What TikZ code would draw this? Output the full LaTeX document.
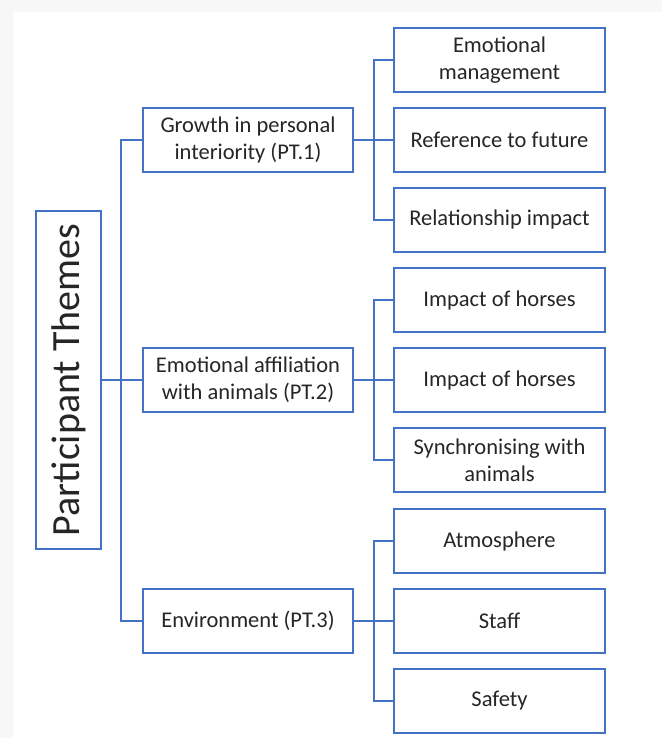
\documentclass[tikz,border=0pt]{standalone}
\usepackage{fontspec}
\setmainfont{Carlito}
\definecolor{bgc}{HTML}{F7F7F7}
\definecolor{lineblue}{HTML}{4472C4}
\definecolor{txt}{HTML}{262626}
\begin{document}
\begin{tikzpicture}[x=1pt,y=-1pt,
  boxbase/.style={draw=lineblue,line width=2pt,fill=white,inner sep=0pt,align=center,text=txt},
  leafbox/.style={boxbase,minimum width=211pt,minimum height=64pt,font=\fontsize{22.5}{27}\selectfont},
  midbox/.style={boxbase,minimum width=210pt,minimum height=64pt,font=\fontsize{22.5}{27}\selectfont},
  rootbox/.style={boxbase,minimum width=338pt,minimum height=65pt,rotate=90,font=\fontsize{40}{48}\selectfont},
  conn/.style={draw=lineblue,line width=2pt}]
\useasboundingbox (0,0) rectangle (662,738);
\fill[bgc] (0,0) rectangle (662,738);
\fill[white] (13,12) rectangle (662,738);

\node[rootbox] (root) at (68.5,380) {Participant Themes};

\node[midbox] (m1) at (248,140) {Growth in personal\\interiority (PT.1)};
\node[midbox] (m2) at (248,380) {Emotional affiliation\\with animals (PT.2)};
\node[midbox] (m3) at (248,621) {Environment (PT.3)};

\node[leafbox] (l1) at (499.5,60) {Emotional\\management};
\node[leafbox] (l2) at (499.5,140) {Reference to future};
\node[leafbox] (l3) at (499.5,220) {Relationship impact};
\node[leafbox] (l4) at (499.5,300) {Impact of horses};
\node[leafbox] (l5) at (499.5,380) {Impact of horses};
\node[leafbox] (l6) at (499.5,460) {Synchronising with\\animals};
\node[leafbox] (l7) at (499.5,541) {Atmosphere};
\node[leafbox] (l8) at (499.5,621) {Staff};
\node[leafbox] (l9) at (499.5,701) {Safety};

\coordinate (tr) at (121,380);
\coordinate (b1) at (373.5,140);
\coordinate (b2) at (373.5,380);
\coordinate (b3) at (373.5,621);

\draw[conn] (root.south) -- (m2.west);
\draw[conn] (m1.west) -| (tr) |- (m3.west);

\draw[conn] (m1.east) -- (l2.west);
\draw[conn] (l1.west) -| (b1) |- (l3.west);
\draw[conn] (m2.east) -- (l5.west);
\draw[conn] (l4.west) -| (b2) |- (l6.west);
\draw[conn] (m3.east) -- (l8.west);
\draw[conn] (l7.west) -| (b3) |- (l9.west);
\end{tikzpicture}
\end{document}
